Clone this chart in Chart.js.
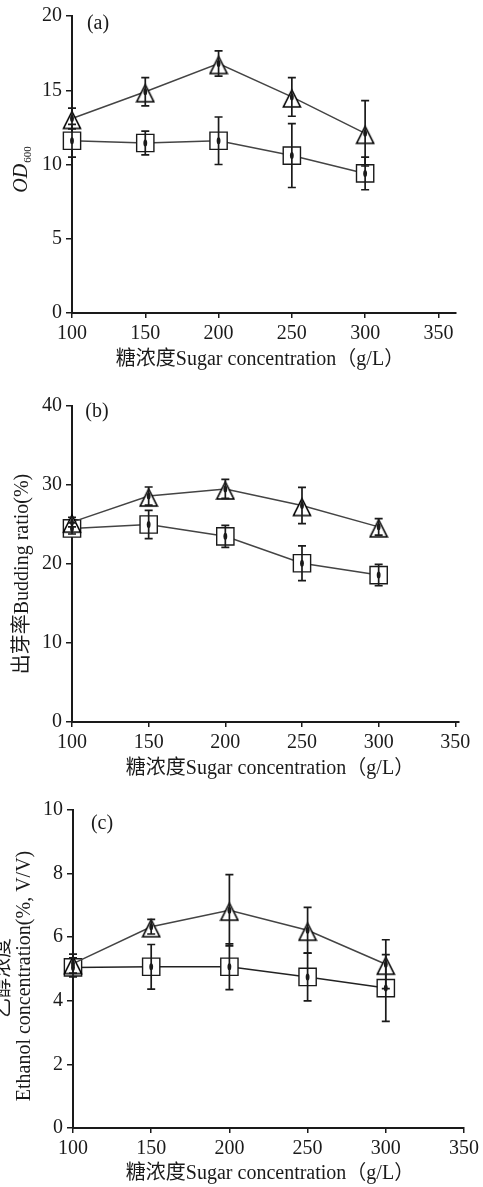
<!DOCTYPE html>
<html>
<head>
<meta charset="utf-8">
<title>Sugar concentration</title>
<script src="https://cdn.jsdelivr.net/npm/chart.js@4.4.0/dist/chart.umd.min.js"></script>
<style>
    body { margin: 0; background: #fff; }
    canvas { display: block; }
</style>
</head>
<body>
<canvas id="chartA" width="483" height="390"></canvas>
<canvas id="chartB" width="483" height="400"></canvas>
<canvas id="chartC" width="483" height="397"></canvas>
<script>
// Sugar concentration (g/L), shared by all panels
const sugar = [100, 150, 200, 250, 300];
const sugarTicks = [100, 150, 200, 250, 300, 350];

// (a) OD600
const odTriangle = [13.1, 14.9, 16.8, 14.55, 12.1];
const odTriangleErr = [0.7, 0.95, 0.85, 1.3, 2.2];
const odSquare = [11.6, 11.45, 11.6, 10.6, 9.4];
const odSquareErr = [1.1, 0.8, 1.6, 2.15, 1.1];
const odTicks = [0, 5, 10, 15, 20];

// (b) Budding ratio (%)
const budTriangle = [25.3, 28.6, 29.5, 27.4, 24.7];
const budTriangleErr = [0.6, 1.15, 1.2, 2.3, 1.05];
const budSquare = [24.5, 25.0, 23.5, 20.1, 18.6];
const budSquareErr = [0.7, 1.8, 1.4, 2.2, 1.35];
const budTicks = [0, 10, 20, 30, 40];

// (c) Ethanol concentration (%, V/V)
const ethTriangle = [5.17, 6.33, 6.85, 6.22, 5.15];
const ethTriangleErr = [0.3, 0.23, 1.12, 0.72, 0.77];
const ethSquare = [5.05, 5.07, 5.07, 4.75, 4.4];
const ethSquareErr = [0.3, 0.7, 0.72, 0.75, 1.05];
const ethTicks = [0, 2, 4, 6, 8, 10];

const SERIF = '"Liberation Serif", "Noto Sans CJK SC", serif';
const INK = "#1a1a1a";
const xTitle = "糖浓度Sugar concentration（g/L）";

// Open triangle sitting a bit low on its point, like the original marker
function triangleMarker() {
    const c = document.createElement("canvas");
    c.width = 20;
    c.height = 24;
    const g = c.getContext("2d");
    g.fillStyle = "#fff";
    g.strokeStyle = "#000";
    g.lineWidth = 1.6;
    g.lineJoin = "miter";
    g.beginPath();
    g.moveTo(10, 5);
    g.lineTo(18.5, 22);
    g.lineTo(1.5, 22);
    g.closePath();
    g.fill();
    g.stroke();
    return c;
}

// Error bars, centre dots and the texts around each panel
const panelPlugin = {
    id: "panel",
    afterDatasetsDraw(chart) {
        const ctx = chart.ctx;
        const xs = chart.scales.x;
        const ys = chart.scales.y;
        ctx.save();
        ctx.strokeStyle = INK;
        ctx.fillStyle = INK;
        ctx.lineWidth = 1.7;
        chart.data.datasets.forEach(ds => {
            ds.data.forEach((v, i) => {
                const x = xs.getPixelForValue(sugar[i]);
                const top = ys.getPixelForValue(v + ds.errors[i]);
                const bot = ys.getPixelForValue(v - ds.errors[i]);
                ctx.beginPath();
                ctx.moveTo(x, top);
                ctx.lineTo(x, bot);
                ctx.moveTo(x - 4, top);
                ctx.lineTo(x + 4, top);
                ctx.moveTo(x - 4, bot);
                ctx.lineTo(x + 4, bot);
                ctx.stroke();
                const y = ys.getPixelForValue(v);
                ctx.beginPath();
                ctx.ellipse(x, y, 1.9, 3.5, 0, 0, Math.PI * 2);
                ctx.fill();
            });
        });
        ctx.restore();
    },
    afterDraw(chart, args, opts) {
        const ctx = chart.ctx;
        ctx.save();
        ctx.fillStyle = INK;
        ctx.font = "20px " + SERIF;
        ctx.textAlign = "center";
        ctx.textBaseline = "middle";
        // panel letter
        ctx.fillText(opts.letter, opts.letterPos[0], opts.letterPos[1]);
        // x axis title
        ctx.fillText(xTitle, opts.xTitlePos[0], opts.xTitlePos[1]);
        // y axis title, rotated
        opts.yTitle.forEach(t => {
            ctx.save();
            ctx.translate(t.x, t.y);
            ctx.rotate(-Math.PI / 2);
            if (t.sub) {
                ctx.textBaseline = "alphabetic";
                ctx.textAlign = "left";
                ctx.font = "italic 20px " + SERIF;
                const w1 = ctx.measureText(t.text).width;
                ctx.font = "11px " + SERIF;
                const w2 = ctx.measureText(t.sub).width;
                const start = -(w1 + w2) / 2;
                ctx.font = "italic 20px " + SERIF;
                ctx.fillText(t.text, start, 0);
                ctx.font = "11px " + SERIF;
                ctx.fillText(t.sub, start + w1 + 1, 4);
            } else {
                ctx.fillText(t.text, 0, 0);
            }
            ctx.restore();
        });
        ctx.restore();
    }
};

function series(values, errors, style, radius, color) {
    return {
        data: values,
        errors: errors,
        borderColor: color,
        borderWidth: 1.5,
        pointStyle: style,
        pointRadius: radius,
        pointHoverRadius: radius,
        pointBackgroundColor: "#fff",
        pointBorderColor: INK,
        pointBorderWidth: 1.4,
        tension: 0,
        clip: false
    };
}

function makePanel(id, p) {
    const ctx = document.getElementById(id).getContext("2d");
    return new Chart(ctx, {
        type: "line",
        data: {
            labels: sugar,
            datasets: [
                series(p.tri, p.triErr, triangleMarker(), 10, "#444"),
                series(p.sq, p.sqErr, "rect", 12.2, p.sqColor || "#444")
            ]
        },
        options: {
            responsive: false,
            animation: false,
            layout: { padding: { left: 0, top: p.top, right: p.right, bottom: 0 } },
            scales: {
                x: {
                    type: "linear",
                    min: 100,
                    max: p.xMax,
                    afterBuildTicks: s => { s.ticks = sugarTicks.map(v => ({ value: v })); },
                    afterFit: s => { s.height = p.xHeight; },
                    grid: { drawOnChartArea: false, drawTicks: true, tickLength: 5, color: INK, lineWidth: 1.5 },
                    border: { display: true, color: INK, width: 2 },
                    ticks: { color: INK, padding: 4, maxRotation: 0, font: { family: SERIF, size: 20 } }
                },
                y: {
                    min: 0,
                    max: p.yTicks[p.yTicks.length - 1],
                    z: 1,
                    afterBuildTicks: s => { s.ticks = p.yTicks.map(v => ({ value: v })); },
                    afterFit: s => { s.width = p.yWidth; },
                    grid: { drawOnChartArea: false, drawTicks: true, tickLength: 6, color: INK, lineWidth: 1.5 },
                    border: { display: true, color: INK, width: 2 },
                    ticks: { color: INK, padding: 4, font: { family: SERIF, size: 20 } }
                }
            },
            plugins: {
                legend: { display: false },
                tooltip: { enabled: false },
                panel: {
                    letter: p.letter,
                    letterPos: p.letterPos,
                    xTitlePos: p.xTitlePos,
                    yTitle: p.yTitle
                }
            }
        },
        plugins: [panelPlugin]
    });
}

makePanel("chartA", {
    tri: odTriangle, triErr: odTriangleErr,
    sq: odSquare, sqErr: odSquareErr,
    yTicks: odTicks,
    xMax: 362, top: 16, right: 27, yWidth: 72, xHeight: 77,
    letter: "(a)", letterPos: [98, 24],
    xTitlePos: [260, 360],
    yTitle: [{ x: 27, y: 170, text: "OD", sub: "600" }]
});

makePanel("chartB", {
    tri: budTriangle, triErr: budTriangleErr,
    sq: budSquare, sqErr: budSquareErr,
    yTicks: budTicks,
    xMax: 352.4, top: 15, right: 24, yWidth: 72, xHeight: 68,
    letter: "(b)", letterPos: [97, 22],
    xTitlePos: [270, 379],
    yTitle: [{ x: 23, y: 184, text: "出芽率Budding ratio(%)" }]
});

makePanel("chartC", {
    tri: ethTriangle, triErr: ethTriangleErr,
    sq: ethSquare, sqErr: ethSquareErr, sqColor: "#222",
    yTicks: ethTicks,
    xMax: 350, top: 20, right: 18, yWidth: 73, xHeight: 59,
    letter: "(c)", letterPos: [102, 34],
    xTitlePos: [270, 384],
    yTitle: [
        { x: 4, y: 188, text: "乙醇浓度" },
        { x: 25, y: 186, text: "Ethanol concentration(%, V/V)" }
    ]
});
</script>
</body>
</html>
